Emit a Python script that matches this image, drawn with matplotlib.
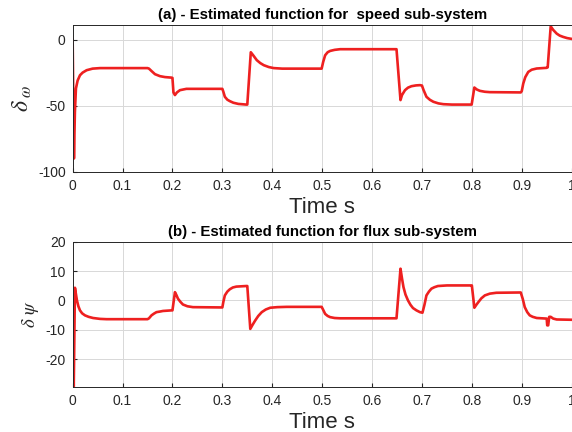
import matplotlib
matplotlib.use("Agg")
import matplotlib.pyplot as plt

plt.rcParams['font.family'] = ['Liberation Sans', 'DejaVu Sans']
plt.rcParams['mathtext.fontset'] = 'stix'
plt.rcParams['axes.unicode_minus'] = False

# speed sub-system estimate
t_speed = [0.0, 0.0026, 0.0045, 0.0066, 0.010, 0.0147, 0.020, 0.028, 0.040, 0.055,
           0.150, 0.153, 0.158, 0.165, 0.175, 0.185, 0.198,
           0.200, 0.202, 0.205, 0.209, 0.215, 0.228, 0.300,
           0.302, 0.305, 0.310, 0.315, 0.322, 0.332, 0.348,
           0.350, 0.357, 0.362, 0.369, 0.376, 0.383, 0.393, 0.403, 0.420, 0.499,
           0.502, 0.506, 0.511, 0.516, 0.525, 0.536, 0.649,
           0.657, 0.660, 0.666, 0.672, 0.679, 0.688, 0.696, 0.700,
           0.703, 0.709, 0.716, 0.723, 0.733, 0.743, 0.760, 0.7996,
           0.805, 0.810, 0.816, 0.826, 0.836, 0.898,
           0.900, 0.903, 0.907, 0.913, 0.920, 0.930, 0.950,
           0.952, 0.958, 0.963, 0.970, 0.976, 0.983, 0.991, 1.0]
d_speed = [0.0, -90.0, -55.0, -37.0, -31.0, -27.0, -25.0, -23.2, -22.0, -21.6,
           -21.6, -22.0, -23.8, -26.2, -27.7, -28.4, -28.8,
           -29.0, -40.0, -42.0, -40.0, -38.3, -37.3, -37.3,
           -39.5, -43.3, -45.5, -46.6, -47.8, -48.7, -49.2,
           -49.2, -9.6, -12.0, -15.6, -17.8, -19.4, -20.8, -21.6, -22.0, -22.0,
           -17.0, -11.9, -9.6, -8.6, -7.8, -7.3, -7.3,
           -45.8, -42.0, -38.3, -36.4, -35.3, -34.7, -34.5, -34.8,
           -38.0, -43.3, -45.6, -47.1, -48.3, -48.9, -49.2, -49.2,
           -36.3, -37.8, -38.8, -39.5, -39.8, -40.0,
           -39.0, -33.3, -28.5, -24.5, -22.8, -21.9, -21.4,
           -21.0, 10.0, 7.3, 4.5, 3.0, 2.0, 1.1, 0.5]

# flux sub-system estimate
t_flux = [0.0, 0.0022, 0.0046, 0.0086, 0.0115, 0.0147, 0.019, 0.0247, 0.032, 0.041, 0.055, 0.068, 0.150,
          0.153, 0.158, 0.163, 0.168, 0.175, 0.181, 0.198,
          0.200, 0.205, 0.208, 0.211, 0.216, 0.221, 0.230, 0.241, 0.300,
          0.302, 0.305, 0.310, 0.315, 0.321, 0.328, 0.348,
          0.350, 0.356, 0.361, 0.366, 0.372, 0.379, 0.387, 0.396, 0.410, 0.429, 0.499,
          0.502, 0.506, 0.511, 0.516, 0.525, 0.536, 0.649,
          0.657, 0.660, 0.663, 0.667, 0.672, 0.677, 0.682, 0.689, 0.696, 0.701,
          0.705, 0.709, 0.714, 0.719, 0.725, 0.732, 0.750, 0.797,
          0.800, 0.805, 0.809, 0.813, 0.819, 0.826, 0.836, 0.849, 0.898,
          0.902, 0.906, 0.911, 0.916, 0.922, 0.930, 0.950,
          0.951, 0.953, 0.955, 0.958, 0.963, 0.970, 1.0]
d_flux = [0.0, -29.4, 4.3, 0.0, -2.0, -3.4, -4.4, -5.1, -5.6, -6.0, -6.3, -6.4, -6.4,
          -6.1, -5.1, -4.5, -4.0, -3.8, -3.6, -3.4,
          -3.4, 2.8, 1.8, 0.6, -0.5, -1.4, -2.0, -2.3, -2.4,
          -0.5, 1.7, 3.0, 3.8, 4.4, 4.7, 4.9,
          4.9, -9.7, -8.2, -6.8, -5.3, -4.0, -3.1, -2.5, -2.3, -2.2, -2.2,
          -3.2, -4.6, -5.3, -5.7, -6.0, -6.1, -6.1,
          10.8, 7.5, 4.5, 2.0, 0.0, -1.5, -2.6, -3.4, -4.0, -4.2,
          -1.5, 1.7, 3.0, 4.0, 4.5, 4.9, 5.1, 5.1,
          5.1, -2.5, -1.5, -0.6, 0.7, 1.7, 2.3, 2.6, 2.7,
          0.5, -2.3, -4.0, -5.1, -5.6, -6.0, -6.2,
          -8.5, -8.5, -5.6, -5.6, -6.2, -6.5, -6.6]

x_ticks = [0, 0.1, 0.2, 0.3, 0.4, 0.5, 0.6, 0.7, 0.8, 0.9, 1]
x_labels = ['0', '0.1', '0.2', '0.3', '0.4', '0.5', '0.6', '0.7', '0.8', '0.9', '1']

fig = plt.figure(figsize=(5.72, 4.32), dpi=100)
ax1 = fig.add_axes([0.127, 0.6025, 0.8724, 0.3396])
ax2 = fig.add_axes([0.127, 0.1049, 0.8724, 0.3356])

line_color = '#ee2020'
panels = [
    (ax1, t_speed, d_speed, (-100, 11), [-100, -50, 0],
     '(a) - Estimated function for  speed sub-system', r'$\delta_{\;\omega}$', 17, 3),
    (ax2, t_flux, d_flux, (-29.4, 20), [-20, -10, 0, 10, 20],
     '(b) - Estimated function for flux sub-system', r'$\delta\ \psi$', 13.5, 3),
]

for ax, t, d, ylim, yticks, title, ylab, ysize, ypad in panels:
    ax.plot(t, d, color=line_color, linewidth=1.9, solid_joinstyle='round')
    ax.set_xlim(0, 1)
    ax.set_ylim(*ylim)
    ax.set_xticks(x_ticks)
    ax.set_xticklabels(x_labels)
    ax.set_yticks(yticks)
    ax.grid(True, color='#d8d8d8', linewidth=0.7)
    ax.set_axisbelow(True)
    ax.tick_params(direction='in', length=3, labelsize=10, colors='#262626',
                   pad=5)
    for s in ax.spines.values():
        s.set_color('#262626')
        s.set_linewidth(0.7)
    ax.set_title(title, fontsize=10.8, fontweight='bold', pad=4)
    ax.set_xlabel('Time s', fontsize=16, color='#262626', labelpad=3)
    ax.set_ylabel(ylab, fontsize=ysize, color='#262626', labelpad=ypad)

fig.savefig('out.png', dpi=100)
